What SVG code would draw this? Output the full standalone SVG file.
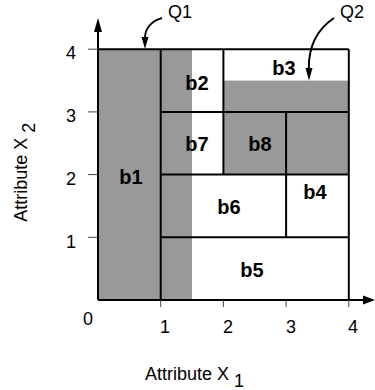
<svg xmlns="http://www.w3.org/2000/svg" width="375" height="390" viewBox="0 0 375 390">
<style>
.ln{stroke:#000;stroke-width:2;fill:none}
.tk{stroke:#444;stroke-width:1;fill:none}
.gray{fill:#999;stroke:none}
.lbl{font-family:"Liberation Sans",Arial,sans-serif;font-size:18px;fill:#000}
.b{font-family:"Liberation Sans",Arial,sans-serif;font-size:20px;font-weight:bold;fill:#000;text-anchor:middle}
.mid{text-anchor:middle}
</style>
<rect width="375" height="390" fill="#fff"/>
<g id="shading">
<rect class="gray" x="98" y="49.2" width="94" height="250.8"/>
<rect class="gray" x="223.4" y="80.6" width="125.4" height="94"/>
</g>
<g id="axes">
<line class="ln" x1="98" y1="300" x2="364" y2="300"/>
<polygon points="375,300 363,295.5 363,304.5" fill="#000"/>
<line class="ln" x1="98" y1="300" x2="98" y2="30"/>
<polygon points="98,18 94,32 102,32" fill="#000"/>
<line class="tk" x1="88" y1="237.3" x2="98" y2="237.3"/>
<line class="tk" x1="88" y1="174.6" x2="98" y2="174.6"/>
<line class="tk" x1="88" y1="111.9" x2="98" y2="111.9"/>
<line class="tk" x1="88" y1="49.2" x2="98" y2="49.2"/>
<line class="tk" x1="160.7" y1="300" x2="160.7" y2="307"/>
<line class="tk" x1="223.4" y1="300" x2="223.4" y2="307"/>
<line class="tk" x1="286.1" y1="300" x2="286.1" y2="307"/>
<line class="tk" x1="348.8" y1="300" x2="348.8" y2="307"/>
<text class="lbl mid" x="71" y="247.5">1</text>
<text class="lbl mid" x="71" y="184.8">2</text>
<text class="lbl mid" x="71" y="122">3</text>
<text class="lbl mid" x="71" y="59.4">4</text>
<text class="lbl mid" x="88" y="325">0</text>
<text class="lbl mid" x="165" y="333">1</text>
<text class="lbl mid" x="228" y="333">2</text>
<text class="lbl mid" x="291" y="333">3</text>
<text class="lbl mid" x="353" y="333">4</text>
<text class="lbl" x="145" y="380">Attribute X <tspan dy="7">1</tspan></text>
<text class="lbl" transform="translate(26.7,221.7) rotate(-90)">Attribute X <tspan dy="8">2</tspan></text>
</g>
<g id="connectors">
<line class="ln" x1="98" y1="49.2" x2="348.8" y2="49.2" stroke-width="1.5"/>
<line class="ln" x1="160.7" y1="49.2" x2="160.7" y2="300"/>
<line class="ln" x1="348.8" y1="49.2" x2="348.8" y2="300"/>
<line class="ln" x1="160.7" y1="111.9" x2="348.8" y2="111.9"/>
<line class="ln" x1="160.7" y1="174.6" x2="348.8" y2="174.6"/>
<line class="ln" x1="160.7" y1="237.3" x2="348.8" y2="237.3"/>
<line class="ln" x1="223.4" y1="49.2" x2="223.4" y2="174.6"/>
<line class="ln" x1="286.1" y1="111.9" x2="286.1" y2="237.3"/>
<path class="ln" stroke-width="1.3" d="M162,18 C152,21 145,28 145,38"/>
<polygon points="145,49 141.5,37 148.5,37" fill="#000"/>
<path class="ln" stroke-width="1.3" d="M334,18 C316,30 308.5,48 308.8,69"/>
<polygon points="309,80.5 305.5,68 312.5,68" fill="#000"/>
</g>
<g id="q1"><text class="lbl" x="168" y="18">Q1</text></g>
<g id="q2"><text class="lbl" x="340" y="18">Q2</text></g>
<g id="b1"><text class="b" x="131" y="184">b1</text></g>
<g id="b2"><text class="b" x="197" y="89.5">b2</text></g>
<g id="b3"><text class="b" x="284" y="75">b3</text></g>
<g id="b7"><text class="b" x="197" y="151">b7</text></g>
<g id="b8"><text class="b" x="260" y="151">b8</text></g>
<g id="b4"><text class="b" x="315" y="199">b4</text></g>
<g id="b6"><text class="b" x="229" y="214">b6</text></g>
<g id="b5"><text class="b" x="252" y="277">b5</text></g>
</svg>
